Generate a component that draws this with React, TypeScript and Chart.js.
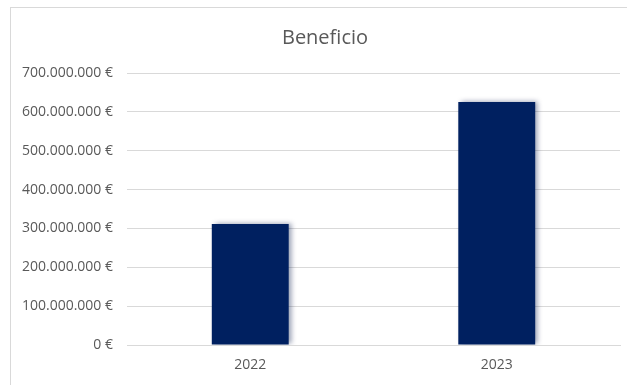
import React, { useEffect, useRef } from "react";
import { Chart, registerables } from "chart.js";

Chart.register(...registerables);

const categories = ["2022", "2023"];
const beneficio = [311500000, 625400000];
const yMin = 0;
const yMax = 700000000;
const yStep = 100000000;
const title = "Beneficio";

const fmt = (v: number) =>
  String(Math.round(v)).replace(/\B(?=(\d{3})+(?!\d))/g, ".") + " €";

const borderPlugin = {
  id: "excelBorder",
  beforeDraw(chart: any) {
    const ctx = chart.ctx;
    ctx.save();
    ctx.fillStyle = "#ffffff";
    ctx.fillRect(0, 0, chart.width, chart.height);
    ctx.strokeStyle = "#d9d9d9";
    ctx.lineWidth = 1;
    ctx.strokeRect(10.5, 7.5, 800, 600);
    ctx.restore();
  },
};

const shadowPlugin = {
  id: "barShadow",
  beforeDatasetsDraw(chart: any) {
    const ctx = chart.ctx;
    ctx.save();
    ctx.shadowColor = "rgba(0, 20, 70, 0.4)";
    ctx.shadowBlur = 5;
    ctx.shadowOffsetX = 3;
    ctx.shadowOffsetY = -1;
  },
  afterDatasetsDraw(chart: any) {
    chart.ctx.restore();
  },
};

export default function App() {
  const ref = useRef<HTMLCanvasElement | null>(null);
  useEffect(() => {
    document.body.style.margin = "0";
    const canvas = ref.current!;
    const chart = new Chart(canvas, {
      type: "bar",
      data: {
        labels: categories,
        datasets: [
          {
            label: title,
            data: beneficio,
            backgroundColor: "#002060",
            borderWidth: 0,
            barPercentage: 0.312,
            categoryPercentage: 1,
          },
        ],
      },
      options: {
        responsive: false,
        animation: false,
        devicePixelRatio: 1,
        layout: { padding: { left: 30, right: 7, top: 0, bottom: 0 } },
        plugins: {
          legend: { display: false },
          tooltip: { enabled: false },
          title: {
            display: true,
            text: title,
            color: "#595959",
            font: { family: "'Open Sans'", size: 20, weight: "normal", lineHeight: 1.2 },
            padding: { top: 26, bottom: 23 },
          },
        },
        scales: {
          x: {
            grid: { display: false, drawTicks: false },
            border: { display: true, color: "#d9d9d9", width: 1 },
            ticks: {
              color: "#595959",
              font: { family: "'Open Sans'", size: 14 },
              padding: 12,
            },
            afterFit(scale: any) {
              scale.height = 40;
            },
          },
          y: {
            min: yMin,
            max: yMax,
            grid: { color: "#d9d9d9", lineWidth: 1, drawTicks: false },
            border: { display: false },
            ticks: {
              stepSize: yStep,
              color: "#595959",
              font: { family: "'Open Sans'", size: 14 },
              padding: 14,
              callback: (v: any) => fmt(Number(v)),
            },
            afterFit(scale: any) {
              scale.width = 97;
              scale._computeLabelArea = () => undefined;
            },
          },
        },
      },
      plugins: [borderPlugin, shadowPlugin],
    });
    return () => chart.destroy();
  }, []);
  return (
    <div style={{ position: "fixed", left: 0, top: 0, width: 627, height: 385 }}>
      <canvas ref={ref} width={627} height={385} style={{ width: 627, height: 385, display: "block" }} />
    </div>
  );
}
